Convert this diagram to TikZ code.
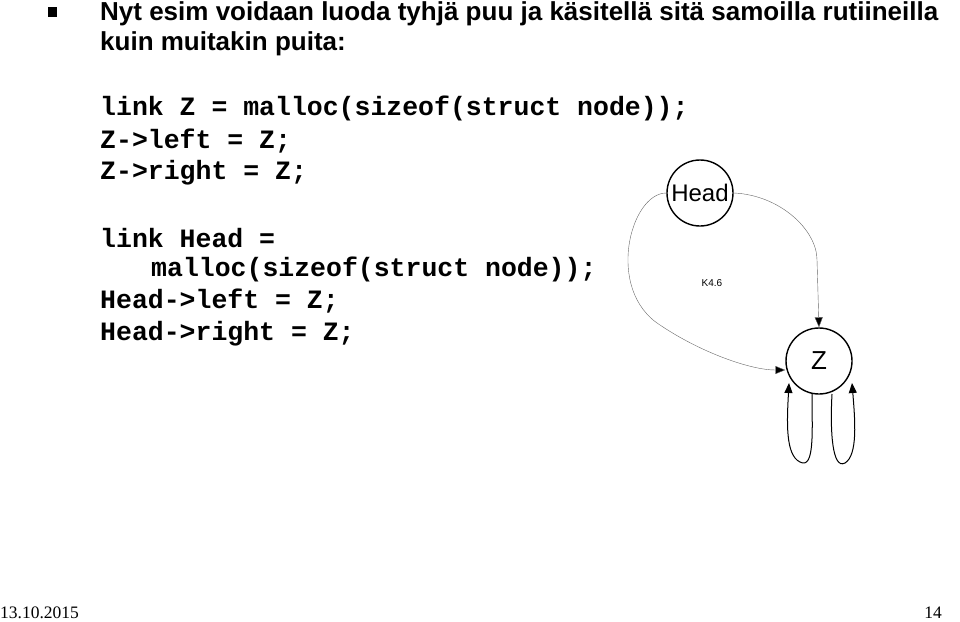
\documentclass[tikz,border=0pt]{standalone}
\usepackage{fontspec}
\setmainfont{Liberation Sans}
\newfontfamily\mono{Liberation Mono}
\newfontfamily\tms{Liberation Serif}
\usetikzlibrary{arrows.meta}
\begin{document}
\begin{tikzpicture}[x=1pt,y=-1pt,
  circ/.style={circle,draw,line width=1.4pt,minimum size=66pt,inner sep=0pt},
  code/.style={anchor=west,inner sep=0pt,font=\mono\bfseries\fontsize{26.5}{30}\selectfont},
  edge/.style={draw=black!60,-{Triangle[length=10pt,width=8pt,fill=black]}},
  loop/.style={draw,line width=1pt,-{Triangle[length=10pt,width=8pt]}}]
\useasboundingbox (0,0) rectangle (960,621);
\fill (48,7) rectangle (57,17);
\node[anchor=west,inner sep=0pt,font=\bfseries\fontsize{26}{30}\selectfont] (t1) at (100,14) {Nyt esim voidaan luoda tyhjä puu ja käsitellä sitä samoilla rutiineilla};
\node[anchor=west,inner sep=0pt,font=\bfseries\fontsize{26}{30}\selectfont] (t2) at (100,44) {kuin muitakin puita:};
\node[code] (c1) at (100,108) {link Z = malloc(sizeof(struct node));};
\node[code] (c2) at (100,141) {Z->left = Z;};
\node[code] (c3) at (100,173) {Z->right = Z;};
\node[code] (c4) at (100,238) {link Head =};
\node[code] (c5) at (151,269) {malloc(sizeof(struct node));};
\node[code] (c6) at (100,301) {Head->left = Z;};
\node[code] (c7) at (100,334) {Head->right = Z;};
\node[circ,font=\fontsize{24}{26}\selectfont] (H) at (700,193) {Head};
\node[circ,font=\fontsize{26}{28}\selectfont] (Z) at (819,361) {Z};
\node[font=\fontsize{10}{12}\selectfont] (k) at (712,283) {K4.6};
\draw[edge] (H.west) .. controls (630,193) and (605,290) .. (660,325) .. controls (700,352) and (750,370) .. (Z.west|-0,370);
\draw[edge] (H.east) .. controls (780,195) and (817,230) .. (817,260) -- (Z.north);
\coordinate (l1) at (812,394);
\coordinate (l2) at (789,383);
\draw[loop] (l1) .. controls (812,430) and (815,470) .. (800,462) .. controls (785,455) and (787,420) .. (l2);
\coordinate (r1) at (832,394);
\coordinate (r2) at (852,383);
\draw[loop] (r1) .. controls (830,430) and (832,470) .. (845,463) .. controls (858,455) and (855,420) .. (r2);
\node[anchor=south west,inner sep=0pt,font=\tms\fontsize{17.5}{19}\selectfont] (d) at (0,619) {13.10.2015};
\node[anchor=south east,inner sep=0pt,font=\tms\fontsize{17.5}{19}\selectfont] (p) at (942,619) {14};
\end{tikzpicture}
\end{document}
